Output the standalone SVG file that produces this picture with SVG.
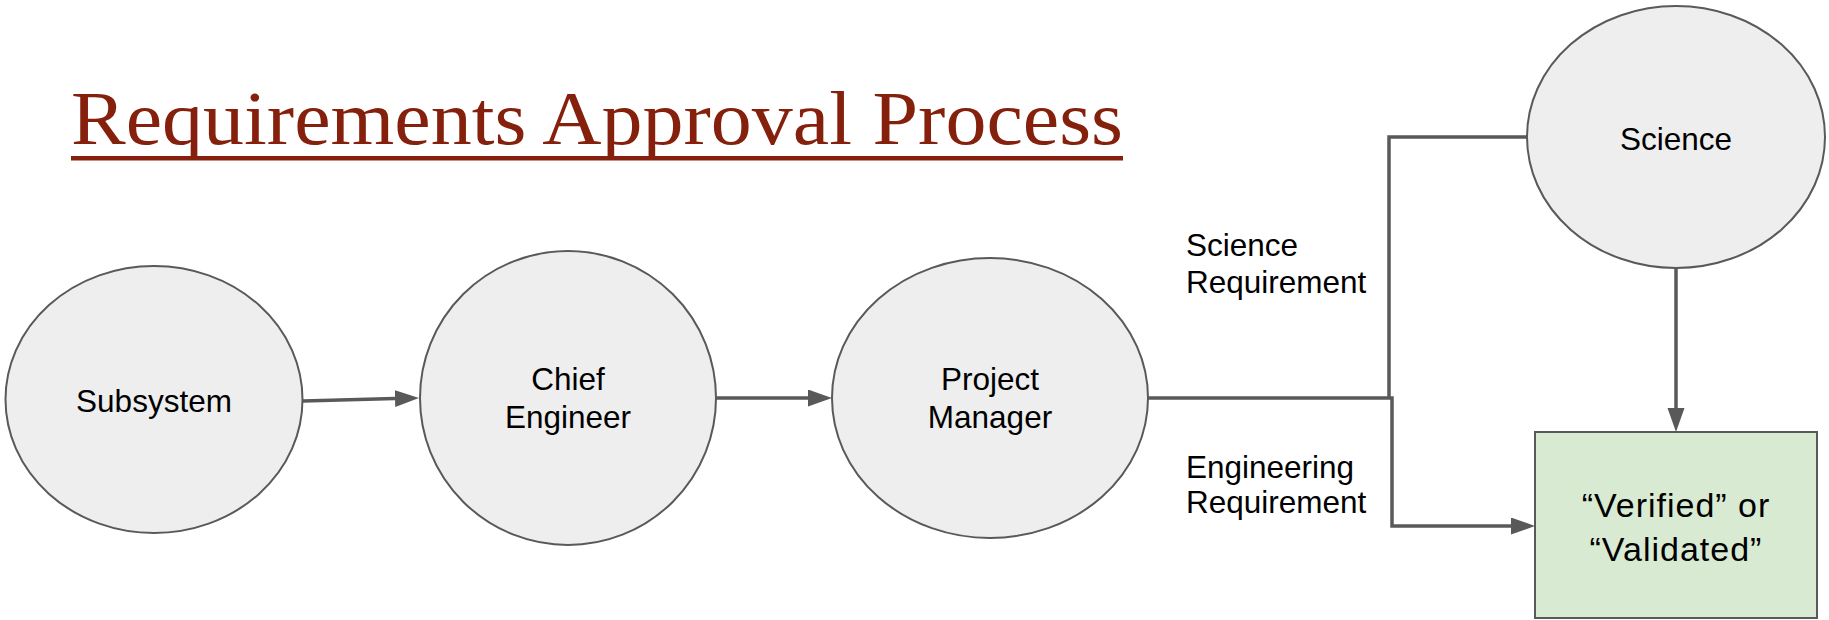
<svg xmlns="http://www.w3.org/2000/svg" width="1829" height="620" viewBox="0 0 1829 620">
  <style>
    .node { fill: #eeeeee; stroke: #595959; stroke-width: 2; }
    .box { fill: #d9ead3; stroke: #595959; stroke-width: 2; }
    .lbl { font-family: "Liberation Sans", Arial, sans-serif; font-size: 31.5px; fill: #000000; }
    .mid { text-anchor: middle; }
    .conn { fill: none; stroke: #595959; stroke-width: 3.5; }
    .title { font-family: "Liberation Serif", "Times New Roman", serif; font-size: 77px; fill: #85200c; }
  </style>
  <defs>
    <marker id="arrow" markerUnits="userSpaceOnUse" markerWidth="26" markerHeight="20" refX="0" refY="8.5" orient="auto">
      <path d="M0,0 L24,8.5 L0,17 z" fill="#595959"/>
    </marker>
  </defs>
  <rect width="1829" height="620" fill="#ffffff"/>

  <g id="title">
    <text class="title" x="71" y="144" textLength="1052" lengthAdjust="spacingAndGlyphs">Requirements Approval Process</text>
    <rect x="71" y="156" width="1052" height="4.5" fill="#85200c"/>
  </g>

  <g id="connectors">
    <path class="conn" d="M303,401 L395,398.6" marker-end="url(#arrow)"/>
    <path class="conn" d="M716,398 L808,398" marker-end="url(#arrow)"/>
    <path class="conn" d="M1148,398 H1392 V526 H1511" marker-end="url(#arrow)"/>
    <path class="conn" d="M1527,137 H1389 V398"/>
    <path class="conn" d="M1676,268 V408" marker-end="url(#arrow)"/>
  </g>

  <g id="label-science-req">
    <text class="lbl" x="1186" y="256">Science</text>
    <text class="lbl" x="1186" y="293">Requirement</text>
  </g>
  <g id="label-eng-req">
    <text class="lbl" x="1186" y="478">Engineering</text>
    <text class="lbl" x="1186" y="513">Requirement</text>
  </g>

  <g id="node-subsystem">
    <ellipse class="node" cx="154" cy="399.5" rx="148.5" ry="133.5"/>
    <text class="lbl mid" x="154" y="412">Subsystem</text>
  </g>
  <g id="node-chief">
    <ellipse class="node" cx="568" cy="398" rx="148" ry="147"/>
    <text class="lbl mid" x="568" y="390">Chief</text>
    <text class="lbl mid" x="568" y="428">Engineer</text>
  </g>
  <g id="node-pm">
    <ellipse class="node" cx="990" cy="398" rx="158" ry="140"/>
    <text class="lbl mid" x="990" y="390">Project</text>
    <text class="lbl mid" x="990" y="428">Manager</text>
  </g>
  <g id="node-science">
    <ellipse class="node" cx="1676" cy="137" rx="149" ry="131"/>
    <text class="lbl mid" x="1676" y="150">Science</text>
  </g>
  <g id="node-result">
    <rect class="box" x="1535" y="432" width="282" height="186"/>
    <text class="lbl mid" x="1676" y="517" style="font-size:34px;letter-spacing:1px">“Verified” or</text>
    <text class="lbl mid" x="1676" y="561" style="font-size:34px;letter-spacing:1px">“Validated”</text>
  </g>
</svg>
